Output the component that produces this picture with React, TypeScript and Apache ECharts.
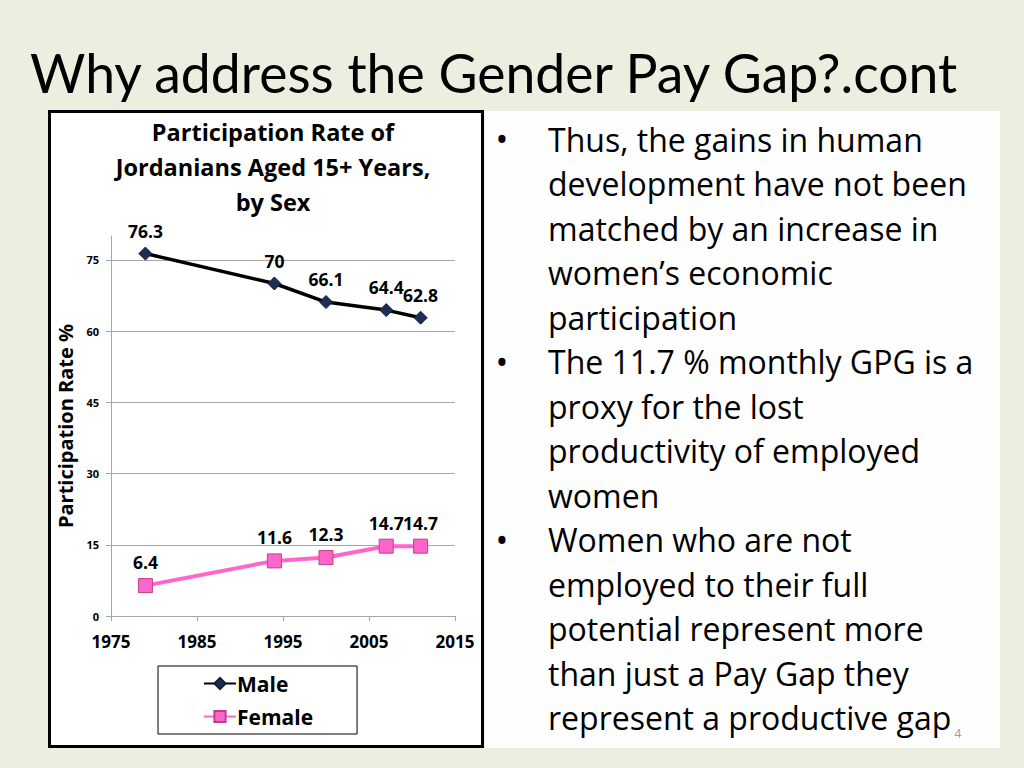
import React, { useEffect, useRef } from "react";
import * as echarts from "echarts";

const years = [1979, 1994, 2000, 2007, 2011];
const maleValues = [76.3, 70, 66.1, 64.4, 62.8];
const femaleValues = [6.4, 11.6, 12.3, 14.7, 14.7];
const yTicks = [0, 15, 30, 45, 60, 75];
const xTicks = [1975, 1985, 1995, 2005, 2015];

const slideTitle = "Why address the Gender Pay Gap?.cont";
const chartTitle = "Participation Rate of\nJordanians Aged 15+ Years,\nby Sex";
const yAxisName = "Participation Rate %";
const bulletLines: { text: string; bullet: boolean }[] = [
  { text: "Thus, the gains in human", bullet: true },
  { text: "development have not been", bullet: false },
  { text: "matched by an increase in", bullet: false },
  { text: "women\u2019s economic", bullet: false },
  { text: "participation", bullet: false },
  { text: "The 11.7 % monthly GPG is a", bullet: true },
  { text: "proxy for the lost", bullet: false },
  { text: "productivity of employed", bullet: false },
  { text: "women", bullet: false },
  { text: "Women who are not", bullet: true },
  { text: "employed to their full", bullet: false },
  { text: "potential represent more", bullet: false },
  { text: "than just a Pay Gap they", bullet: false },
  { text: "represent a productive gap", bullet: false },
];

const TITLE_FONT = "Lato, 'Open Sans', sans-serif";
const FONT = "'Open Sans', 'Noto Sans', sans-serif";

export default function App() {
  const ref = useRef<HTMLDivElement>(null);
  useEffect(() => {
    if (!ref.current) return;
    const chart = echarts.init(ref.current, null, { renderer: "svg" });

    const textEls: any[] = [];
    bulletLines.forEach((l, i) => {
      const y = 139 + i * 44.5;
      if (l.bullet) {
        textEls.push({
          type: "text",
          x: 502,
          y,
          z: 100,
          style: { text: "\u2022", font: `34px ${FONT}`, fill: "#000", verticalAlign: "middle", align: "center" },
        });
      }
      textEls.push({
        type: "text",
        x: 548,
        y,
        z: 100,
        style: { text: l.text, font: `32px ${FONT}`, fill: "#000", verticalAlign: "middle" },
      });
    });

    const option: any = {
      animation: false,
      backgroundColor: "#ECEFE0",
      title: {
        text: chartTitle,
        left: 268,
        top: 109,
        textAlign: "center",
        textStyle: { fontFamily: FONT, fontWeight: "bold", fontSize: 23.5, lineHeight: 35, color: "#000" },
      },
      graphic: [
        { type: "rect", z: -10, shape: { x: 485, y: 111, width: 515, height: 637 }, style: { fill: "#FEFEFE" } },
        { type: "rect", z: -9, shape: { x: 49.5, y: 111.5, width: 433, height: 635 }, style: { fill: "#FFFFFF", stroke: "#000", lineWidth: 3 } },
        {
          type: "text",
          x: 30,
          y: 72,
          z: 100,
          style: { text: slideTitle, font: `53.5px ${TITLE_FONT}`, fill: "#000", verticalAlign: "middle" },
        },
        {
          type: "text",
          x: 958,
          y: 733,
          z: 100,
          style: { text: "4", font: `12px ${FONT}`, fill: "#999", verticalAlign: "middle", align: "center" },
        },
        ...textEls,
      ],
      legend: {
        orient: "vertical",
        left: 158,
        top: 666,
        borderColor: "#000",
        borderWidth: 1,
        padding: [7, 44, 7, 45],
        itemGap: 12,
        itemWidth: 32,
        itemHeight: 14,
        textStyle: { fontFamily: FONT, fontWeight: "bold", fontSize: 21, color: "#000", padding: [0, 0, 0, -4] },
        data: ["Male", "Female"],
      },
      grid: { left: 111, top: 236, width: 344, height: 380 },
      xAxis: {
        type: "value",
        min: 1975,
        max: 2015,
        interval: 10,
        axisLine: { show: true, lineStyle: { color: "#A6A6A6", width: 1 } },
        axisTick: { show: true, inside: false, length: 5, lineStyle: { color: "#A6A6A6" } },
        splitLine: { show: false },
        axisLabel: {
          margin: 17,
          fontFamily: FONT,
          fontWeight: "bold",
          fontSize: 17,
          color: "#000",
          customValues: xTicks,
          formatter: (v: number) => String(v),
        },
      },
      yAxis: {
        type: "value",
        min: 0,
        max: 80,
        interval: 5,
        name: yAxisName,
        nameLocation: "middle",
        nameGap: 36,
        nameTextStyle: { fontFamily: FONT, fontWeight: "bold", fontSize: 20, color: "#000" },
        axisLine: { show: true, lineStyle: { color: "#A6A6A6", width: 1 } },
        axisTick: { show: true, length: 5, lineStyle: { color: "#A6A6A6" }, customValues: yTicks },
        axisLabel: { margin: 12, fontFamily: FONT, fontWeight: "bold", fontSize: 11, color: "#000", customValues: yTicks },
        splitLine: { show: false },
      },
      series: [
        {
          name: "Male",
          type: "line",
          data: years.map((y, i) => [y, maleValues[i]]),
          symbol: "diamond",
          symbolSize: 13,
          lineStyle: { color: "#000", width: 3.5 },
          itemStyle: { color: "#1B2F55", borderColor: "#0F1E3A", borderWidth: 1 },
          label: {
            show: true,
            position: "top",
            distance: 7,
            fontFamily: FONT,
            fontWeight: "bold",
            fontSize: 17.5,
            color: "#000",
          },
          markLine: {
            silent: true,
            symbol: "none",
            label: { show: false },
            lineStyle: { color: "#A6A6A6", width: 1, type: "solid" },
            data: yTicks.filter((v) => v > 0).map((v) => ({ yAxis: v })),
          },
          z: 5,
        },
        {
          name: "Female",
          type: "line",
          data: years.map((y, i) => [y, femaleValues[i]]),
          symbol: "rect",
          symbolSize: 14,
          lineStyle: { color: "#FF66CC", width: 4 },
          itemStyle: { color: "#FF66CC", borderColor: "#C0407F", borderWidth: 1 },
          label: {
            show: true,
            position: "top",
            distance: 7,
            fontFamily: FONT,
            fontWeight: "bold",
            fontSize: 17.5,
            color: "#000",
          },
          z: 5,
        },
      ],
    };
    chart.setOption(option);
    return () => chart.dispose();
  }, []);
  return (
    <div
      ref={ref}
      style={{ position: "fixed", left: 0, top: 0, width: 1024, height: 768 }}
    />
  );
}
